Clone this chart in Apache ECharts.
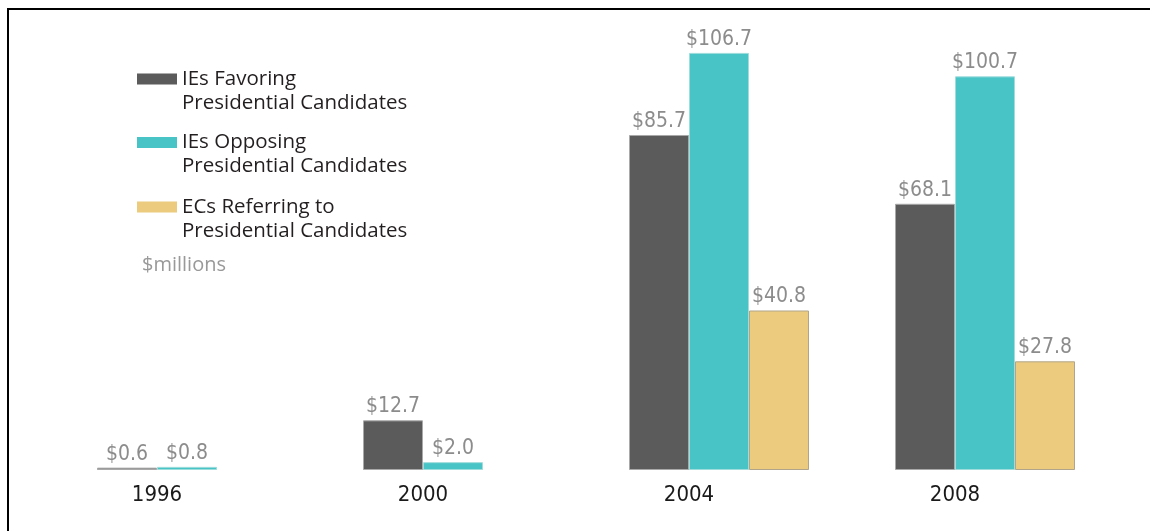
<!DOCTYPE html>
<html>
<head>
<meta charset="utf-8">
<script src="https://cdn.jsdelivr.net/npm/echarts@6/dist/echarts.min.js"></script>
<style>html,body{margin:0;padding:0;background:#fff}#c{width:1150px;height:531px}</style>
</head>
<body>
<div id="c"></div>
<script>
const categories = ['1996', '2000', '2004', '2008'];
const favoring = [0.6, 12.7, 85.7, 68.1];
const opposing = [0.8, 2.0, 106.7, 100.7];
const ecs = [null, null, 40.8, 27.8];
const seriesNames = ['IEs Favoring\nPresidential Candidates', 'IEs Opposing\nPresidential Candidates', 'ECs Referring to\nPresidential Candidates'];
const unitLabel = '$millions';

const numFont = "'Liberation Sans Narrow', 'DejaVu Sans Condensed', sans-serif";
const textFont = "'Open Sans', 'Noto Sans', sans-serif";
const colors = ['#5a5b5a', '#48c3c6', '#eccb7e'];
const borders = ['#a9a9a9', '#9fdcdc', '#b0a58a'];

const chart = echarts.init(document.getElementById('c'), null, {renderer: 'canvas'});

function mkSeries(i, data) {
  return {
    name: seriesNames[i],
    type: 'bar',
    data: data,
    barWidth: 60,
    barGap: '0%',
    itemStyle: {color: colors[i], borderColor: borders[i], borderWidth: 1},
    label: {
      show: true, position: 'top', distance: 3,
      color: '#8c8c8c', fontFamily: numFont, fontSize: 21,
      formatter: p => '$' + p.value.toFixed(1)
    },
    emphasis: {disabled: true}
  };
}

const legendTops = [43, 106.5, 171];
const legends = seriesNames.map((n, i) => ({
  data: [n], left: 137, top: legendTops[i], padding: 0,
  itemWidth: 40, itemHeight: 11, icon: 'rect',
  selectedMode: false,
  itemStyle: {borderWidth: 0},
  formatter: name => '{s| }\n' + name.split('\n').map(l => '{a|' + l + '}').join('\n'),
  textStyle: {
    fontFamily: textFont, fontSize: 20.5, color: '#231f20', lineHeight: 24,
    rich: {
      s: {fontSize: 10, lineHeight: 24},
      a: {fontFamily: textFont, fontSize: 20.5, color: '#231f20', lineHeight: 24}
    }
  }
}));

chart.setOption({
  animation: false,
  grid: {left: 54, right: 32, top: 40, bottom: 61},
  legend: legends,
  xAxis: {
    type: 'category', data: categories,
    axisLine: {show: false}, axisTick: {show: false},
    axisLabel: {color: '#1a1a1a', fontFamily: numFont, fontSize: 22, margin: 14, padding: [0, 60, 0, 0]}
  },
  yAxis: {type: 'value', min: 0, max: 110, show: false},
  graphic: [
    {type: 'line', shape: {x1: 7, y1: 9, x2: 1150, y2: 9}, style: {stroke: '#000', lineWidth: 2}},
    {type: 'line', shape: {x1: 8, y1: 8, x2: 8, y2: 531}, style: {stroke: '#000', lineWidth: 2}},
    {type: 'text', left: 142, top: 255, style: {text: unitLabel, fill: '#999', font: "20px " + textFont}}
  ],
  series: [mkSeries(0, favoring), mkSeries(1, opposing), mkSeries(2, ecs)]
});
</script>
</body>
</html>
